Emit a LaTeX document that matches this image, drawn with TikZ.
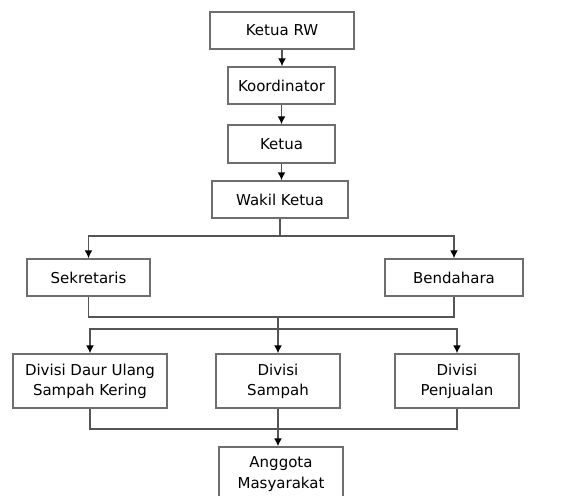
\documentclass[tikz,border=0pt]{standalone}
\usepackage{fontspec}
\setmainfont{DejaVu Sans}
\usepackage{tikz}
\usetikzlibrary{calc}
\usetikzlibrary{arrows.meta}
\usepackage{color}
\definecolor{boxgray}{RGB}{110, 110, 110}
\definecolor{linegray}{RGB}{85, 85, 85}

\begin{document}
\begin{tikzpicture}[x=0.567pt, y=-0.567pt,
    box/.style={draw=boxgray, line width=0.8pt, align=center, inner sep=0pt,
                font=\fontsize{8.5}{11.5}\selectfont},
    link/.style={draw=linegray, line width=0.8pt},
    >={Latex[black, length=4.5pt, width=4.5pt]}]
            % Frame to ensure alignment:
            \useasboundingbox                                                 (0, 0) rectangle (567, 495);
            % Top chain
            \node[box, minimum width=81.6pt, minimum height=21pt]   (rw)      at (282.0,  30.5) {Ketua RW};
            \node[box, minimum width=60.7pt, minimum height=21pt]   (koord)   at (281.5,  85.5) {Koordinator};
            \node[box, minimum width=60.7pt, minimum height=21.5pt] (ketua)   at (281.5, 144.0) {Ketua};
            \node[box, minimum width=77.1pt, minimum height=21pt]   (wakil)   at (280.0, 199.5) {Wakil Ketua};
            % Second row
            \node[box, minimum width=69.7pt, minimum height=21pt]   (sekr)    at ( 88.5, 277.5) {Sekretaris};
            \node[box, minimum width=78.2pt, minimum height=21pt]   (bend)    at (454.0, 277.5) {Bendahara};
            % Divisions
            \node[box, minimum width=87.3pt, minimum height=30.6pt] (daur)    at ( 90.0, 381.0) {Divisi Daur Ulang\\Sampah Kering};
            \node[box, minimum width=70.3pt, minimum height=30.6pt] (sampah)  at (278.0, 381.0) {Divisi\\Sampah};
            \node[box, minimum width=70.3pt, minimum height=30.6pt] (jual)    at (457.0, 381.0) {Divisi\\Penjualan};
            % Members
            \node[box, minimum width=70.3pt, minimum height=30.6pt] (anggota) at (281.0, 474.0) {Anggota\\Masyarakat};
            % Bus lines
            \coordinate (busA) at (0, 236);
            \coordinate (busB) at (0, 317);
            \coordinate (busC) at (0, 329);
            \coordinate (busD) at (0, 429);
            % Connectors
            \draw[link, ->] (rw.south)    -- (rw.south |- koord.north);
            \draw[link, ->] (koord.south) -- (koord.south |- ketua.north);
            \draw[link, ->] (ketua.south) -- (ketua.south |- wakil.north);
            \draw[link]     (wakil.south) -- (wakil.south |- busA);
            \draw[link, <->] (sekr.north) -- (sekr.north |- busA) -- (bend.north |- busA) -- (bend.north);
            \draw[link]     (sekr.south) -- (sekr.south |- busB) -- (bend.south |- busB) -- (bend.south);
            \draw[link, ->] (sampah.north |- busB) -- (sampah.north);
            \draw[link, <->] (daur.north) -- (daur.north |- busC) -- (jual.north |- busC) -- (jual.north);
            \draw[link]     (daur.south) -- (daur.south |- busD) -- (jual.south |- busD) -- (jual.south);
            \draw[link, ->] (sampah.south) -- (sampah.south |- anggota.north);
\end{tikzpicture}
\end{document}
